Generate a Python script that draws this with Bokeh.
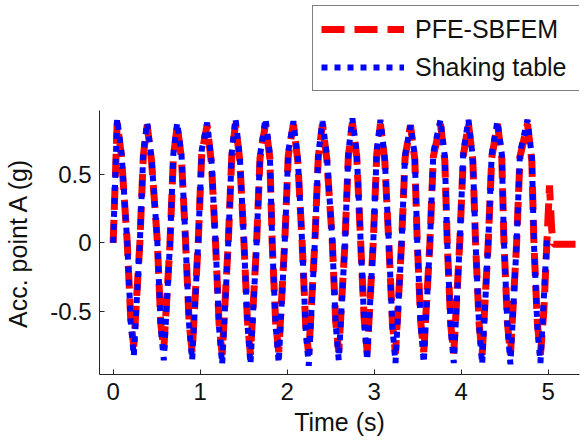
from bokeh.plotting import figure
from bokeh.layouts import column
from bokeh.models import Range1d, FixedTicker, Legend, LegendItem
from bokeh.embed import file_html
from bokeh.resources import INLINE

# ---- data ----
time_common = [
    0.000,
    0.046, 0.096, 0.162, 0.202, 0.237, 0.307, 0.347,
    0.391, 0.441, 0.507, 0.547, 0.582, 0.652, 0.692,
    0.736, 0.786, 0.833, 0.873, 0.908, 0.978, 1.018,
    1.080, 1.130, 1.178, 1.218, 1.253, 1.323, 1.363,
    1.406, 1.456, 1.503, 1.543, 1.578, 1.648, 1.688,
    1.751, 1.801, 1.828, 1.868, 1.903, 1.973, 2.013,
    2.072, 2.122, 2.173, 2.213, 2.248, 2.318, 2.358,
    2.406, 2.456, 2.518, 2.558, 2.593, 2.663, 2.703,
    2.750, 2.800, 2.845, 2.885, 2.920, 2.990, 3.030,
    3.072, 3.122, 3.170, 3.210, 3.245, 3.315, 3.355,
    3.417, 3.467, 3.495, 3.535, 3.570, 3.640, 3.680,
    3.762, 3.812, 3.840, 3.880, 3.915, 3.985, 4.025,
    4.084, 4.134, 4.166, 4.206, 4.241, 4.311, 4.351,
    4.417, 4.467, 4.491, 4.531, 4.566, 4.636, 4.676,
    4.762, 4.812, 4.836, 4.876, 4.911,
]

acc_table_common = [
    0.00,
    0.91, 0.66, 0.00, -0.58, -0.83, 0.00, 0.67,
    0.88, 0.62, 0.02, -0.62, -0.86, -0.02, 0.65,
    0.88, 0.64, 0.00, -0.60, -0.86, 0.01, 0.68,
    0.88, 0.60, -0.02, -0.63, -0.89, 0.00, 0.66,
    0.91, 0.63, 0.01, -0.59, -0.89, -0.01, 0.64,
    0.91, 0.65, 0.00, -0.61, -0.88, 0.02, 0.67,
    0.89, 0.62, -0.01, -0.64, -0.90, 0.00, 0.65,
    0.89, 0.64, 0.02, -0.60, -0.86, -0.02, 0.66,
    0.91, 0.66, 0.00, -0.58, -0.86, 0.01, 0.68,
    0.90, 0.62, -0.02, -0.62, -0.88, 0.00, 0.64,
    0.86, 0.64, 0.01, -0.60, -0.88, -0.01, 0.66,
    0.90, 0.63, 0.00, -0.63, -0.88, 0.02, 0.67,
    0.90, 0.62, -0.01, -0.61, -0.89, 0.00, 0.65,
    0.89, 0.65, 0.02, -0.60, -0.89, -0.02, 0.66,
    0.90, 0.63, 0.00, -0.62, -0.88,
]

acc_sbfem_common = [
    0.00,
    0.88, 0.63, 0.00, -0.56, -0.76, 0.00, 0.64,
    0.86, 0.60, 0.02, -0.59, -0.78, -0.02, 0.62,
    0.86, 0.61, 0.00, -0.58, -0.80, 0.01, 0.65,
    0.86, 0.58, -0.02, -0.60, -0.82, 0.00, 0.63,
    0.87, 0.60, 0.01, -0.57, -0.82, -0.01, 0.62,
    0.87, 0.62, 0.00, -0.59, -0.80, 0.02, 0.64,
    0.87, 0.60, -0.01, -0.61, -0.82, 0.00, 0.63,
    0.87, 0.61, 0.02, -0.58, -0.80, -0.02, 0.63,
    0.88, 0.63, 0.00, -0.56, -0.80, 0.01, 0.65,
    0.87, 0.60, -0.02, -0.59, -0.81, 0.00, 0.62,
    0.86, 0.61, 0.01, -0.58, -0.80, -0.01, 0.63,
    0.87, 0.60, 0.00, -0.60, -0.81, 0.02, 0.64,
    0.87, 0.60, -0.01, -0.59, -0.82, 0.00, 0.62,
    0.87, 0.62, 0.02, -0.58, -0.82, -0.02, 0.63,
    0.87, 0.60, 0.00, -0.59, -0.82,
]

time_table_tail = [4.985]
acc_table_tail = [0.02]
time_sbfem_tail = [4.950, 4.985, 5.015, 5.040, 5.060, 5.400]
acc_sbfem_tail = [-0.50, 0.00, 0.42, 0.10, -0.01, -0.01]

x_ticks = [0, 1, 2, 3, 4, 5]
x_tick_labels = ["0", "1", "2", "3", "4", "5"]
y_ticks = [-0.5, 0, 0.5]
y_tick_labels = ["-0.5", "0", "0.5"]

series_names = ["PFE-SBFEM", "Shaking table"]

t_table = time_common + time_table_tail
a_table = acc_table_common + acc_table_tail
t_sbfem = time_common + time_sbfem_tail
a_sbfem = acc_sbfem_common + acc_sbfem_tail

FONT = "Liberation Sans"
AX = "#262626"
RED = "#FF0000"
BLUE = "#0000FF"
SIM_STYLE = dict(line_color=RED, line_width=7, line_dash="23 10")
TAB_STYLE = dict(line_color=BLUE, line_width=6, line_dash="6 7")

# ---- main axes ----
p = figure(width=588, height=336, output_backend="svg", toolbar_location=None,
           x_range=Range1d(-0.157, 5.36), y_range=Range1d(-0.964, 0.968),
           min_border_left=99, min_border_right=9, min_border_top=0,
           min_border_bottom=72)
p.background_fill_color = "white"
p.border_fill_color = "white"
p.outline_line_color = None
p.xgrid.visible = False
p.ygrid.visible = False

p.line(t_sbfem, a_sbfem, **SIM_STYLE)
p.line(t_table, a_table, **TAB_STYLE)

p.xaxis.ticker = FixedTicker(ticks=x_ticks)
p.yaxis.ticker = FixedTicker(ticks=y_ticks)
p.xaxis.major_label_overrides = dict(zip(x_ticks, x_tick_labels))
p.yaxis.major_label_overrides = dict(zip(y_ticks, y_tick_labels))
p.xaxis.axis_label = "Time (s)"
p.yaxis.axis_label = "Acc. point A (g)"

for ax in (p.xaxis[0], p.yaxis[0]):
    ax.major_tick_in = 5
    ax.major_tick_out = 0
    ax.minor_tick_in = 0
    ax.minor_tick_out = 0
    ax.axis_line_color = AX
    ax.axis_line_width = 1
    ax.major_tick_line_color = AX
    ax.major_label_text_font = FONT
    ax.major_label_text_font_size = "24px"
    ax.major_label_text_color = "#111111"
    ax.axis_label_text_font = FONT
    ax.axis_label_text_font_size = "25px"
    ax.axis_label_text_font_style = "normal"
    ax.axis_label_text_color = "#111111"
    ax.major_label_standoff = 8

p.xaxis[0].axis_label_standoff = 5
p.yaxis[0].axis_label_standoff = 15

# ---- legend strip above the axes (series kept out of its view) ----
pl = figure(width=588, height=110, output_backend="svg", toolbar_location=None,
            x_axis_type=None, y_axis_type=None, min_border=0,
            x_range=Range1d(-0.157, 5.36), y_range=Range1d(10, 11))
pl.outline_line_color = None
pl.background_fill_color = "white"
pl.border_fill_color = "white"
pl.xgrid.visible = False
pl.ygrid.visible = False
l_sim = pl.line(t_sbfem, a_sbfem, **SIM_STYLE)
l_tab = pl.line(t_table, a_table, **TAB_STYLE)

legend = Legend(
    items=[LegendItem(label=series_names[0], renderers=[l_sim]),
           LegendItem(label=series_names[1], renderers=[l_tab])],
    location=(213, 19),
    label_text_font=FONT, label_text_font_size="25px", label_text_color="#111111",
    glyph_width=83, glyph_height=30, label_height=30, label_width=175,
    label_standoff=11, spacing=8, padding=8, margin=0,
    border_line_color="#000000", border_line_width=1,
    background_fill_color="white", background_fill_alpha=1.0,
)
pl.add_layout(legend)

layout = column(pl, p, spacing=0)
open("out.html", "w").write(file_html(layout, INLINE))
